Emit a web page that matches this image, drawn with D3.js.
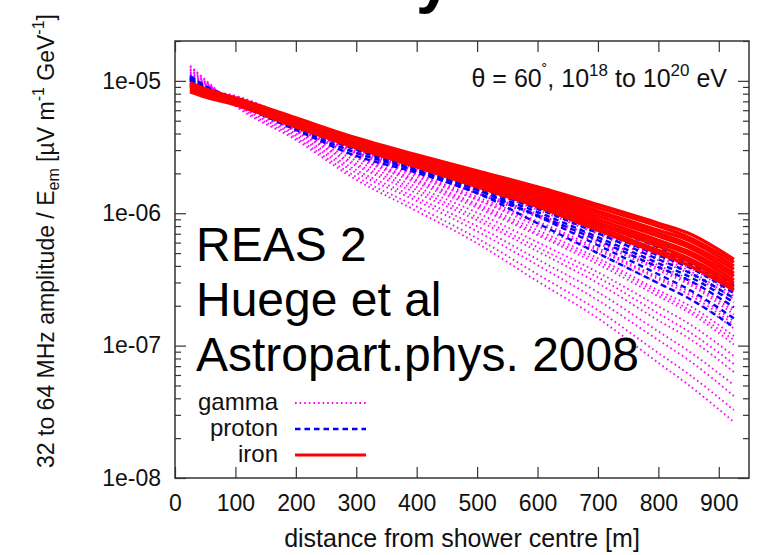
<!DOCTYPE html>
<html>
<head>
<meta charset="utf-8">
<script src="https://cdn.jsdelivr.net/npm/d3@7/dist/d3.min.js"></script>
<style>
  html, body { margin: 0; padding: 0; background: #fff; }
  svg { display: block; }
  text { font-family: "Liberation Sans", Arial, Helvetica, sans-serif; fill: #111; }
</style>
</head>
<body>
<svg id="chart" width="777" height="555"></svg>
<script>
// Lateral distances (m) at which each simulated curve is sampled
const distances = [25, 50, 100, 200, 300, 400, 500, 600, 700, 800, 850, 925];

// gamma-induced showers, field strength per unit E_em
const gammaCurves = [
  [9.83e-6, 8.55e-6, 7.70e-6, 5.07e-6, 3.40e-6, 2.40e-6, 1.69e-6, 1.20e-6, 7.98e-7, 5.25e-7, 4.26e-7, 2.62e-7],
  [1.00e-5, 8.70e-6, 7.70e-6, 4.98e-6, 3.28e-6, 2.32e-6, 1.61e-6, 1.14e-6, 7.44e-7, 4.81e-7, 3.91e-7, 2.36e-7],
  [1.00e-5, 8.70e-6, 7.57e-6, 4.98e-6, 3.28e-6, 2.28e-6, 1.58e-6, 1.10e-6, 7.18e-7, 4.65e-7, 3.71e-7, 2.24e-7],
  [1.02e-5, 8.70e-6, 7.57e-6, 4.90e-6, 3.23e-6, 2.24e-6, 1.55e-6, 1.06e-6, 6.94e-7, 4.41e-7, 3.52e-7, 2.12e-7],
  [1.02e-5, 8.70e-6, 7.57e-6, 4.81e-6, 3.12e-6, 2.16e-6, 1.47e-6, 9.88e-7, 6.47e-7, 4.05e-7, 3.17e-7, 1.91e-7],
  [1.04e-5, 8.85e-6, 7.44e-6, 4.81e-6, 3.06e-6, 2.09e-6, 1.42e-6, 9.66e-7, 6.14e-7, 3.84e-7, 3.01e-7, 1.82e-7],
  [1.04e-5, 8.85e-6, 7.44e-6, 4.73e-6, 3.01e-6, 2.05e-6, 1.40e-6, 9.33e-7, 5.93e-7, 3.71e-7, 2.91e-7, 1.72e-7],
  [1.05e-5, 8.85e-6, 7.44e-6, 4.65e-6, 2.91e-6, 1.98e-6, 1.33e-6, 8.70e-7, 5.44e-7, 3.28e-7, 2.57e-7, 1.53e-7],
  [1.05e-5, 9.01e-6, 7.31e-6, 4.65e-6, 2.86e-6, 1.95e-6, 1.28e-6, 8.40e-7, 5.25e-7, 3.17e-7, 2.44e-7, 1.45e-7],
  [1.07e-5, 9.01e-6, 7.31e-6, 4.57e-6, 2.81e-6, 1.88e-6, 1.26e-6, 7.98e-7, 4.98e-7, 2.96e-7, 2.28e-7, 1.35e-7],
  [1.09e-5, 9.17e-6, 7.31e-6, 4.49e-6, 2.71e-6, 1.79e-6, 1.18e-6, 7.44e-7, 4.57e-7, 2.62e-7, 2.02e-7, 1.18e-7],
  [1.09e-5, 9.17e-6, 7.18e-6, 4.41e-6, 2.66e-6, 1.75e-6, 1.14e-6, 7.06e-7, 4.34e-7, 2.49e-7, 1.88e-7, 1.10e-7],
  [1.11e-5, 9.17e-6, 7.18e-6, 4.41e-6, 2.62e-6, 1.69e-6, 1.10e-6, 6.82e-7, 4.12e-7, 2.36e-7, 1.79e-7, 1.02e-7],
  [1.13e-5, 9.33e-6, 7.06e-6, 4.26e-6, 2.49e-6, 1.58e-6, 1.01e-6, 6.04e-7, 3.58e-7, 1.98e-7, 1.47e-7, 8.35e-8],
  [1.15e-5, 9.49e-6, 6.94e-6, 4.19e-6, 2.36e-6, 1.50e-6, 9.33e-7, 5.53e-7, 3.28e-7, 1.75e-7, 1.28e-7, 7.26e-8],
  [1.17e-5, 9.49e-6, 6.94e-6, 4.12e-6, 2.28e-6, 1.42e-6, 8.85e-7, 5.16e-7, 2.96e-7, 1.55e-7, 1.14e-7, 6.32e-8],
  [1.21e-5, 9.66e-6, 6.82e-6, 3.98e-6, 2.12e-6, 1.31e-6, 7.98e-7, 4.49e-7, 2.53e-7, 1.28e-7, 9.10e-8, 5.04e-8],
  [1.23e-5, 9.83e-6, 6.70e-6, 3.84e-6, 2.02e-6, 1.24e-6, 7.31e-7, 4.05e-7, 2.20e-7, 1.10e-7, 7.78e-8, 4.16e-8],
  [1.28e-5, 1.00e-5, 6.59e-6, 3.71e-6, 1.88e-6, 1.12e-6, 6.47e-7, 3.46e-7, 1.85e-7, 8.79e-8, 6.10e-8, 3.26e-8],
  [1.30e-5, 1.02e-5, 6.47e-6, 3.58e-6, 1.79e-6, 1.04e-6, 5.93e-7, 3.06e-7, 1.61e-7, 7.41e-8, 5.04e-8, 2.65e-8]
];

// proton-induced showers
const protonCurves = [
  [1.09e-5, 9.17e-6, 7.31e-6, 4.90e-6, 3.40e-6, 2.44e-6, 1.75e-6, 1.24e-6, 8.26e-7, 5.53e-7, 4.49e-7, 2.86e-7],
  [1.07e-5, 9.01e-6, 7.18e-6, 4.81e-6, 3.28e-6, 2.36e-6, 1.67e-6, 1.18e-6, 7.84e-7, 5.16e-7, 4.19e-7, 2.66e-7],
  [1.05e-5, 8.85e-6, 7.06e-6, 4.73e-6, 3.23e-6, 2.28e-6, 1.61e-6, 1.14e-6, 7.44e-7, 4.81e-7, 3.91e-7, 2.49e-7],
  [1.04e-5, 8.70e-6, 7.06e-6, 4.65e-6, 3.17e-6, 2.24e-6, 1.55e-6, 1.08e-6, 7.06e-7, 4.49e-7, 3.58e-7, 2.28e-7],
  [1.02e-5, 8.55e-6, 6.94e-6, 4.57e-6, 3.06e-6, 2.16e-6, 1.50e-6, 1.02e-6, 6.59e-7, 4.19e-7, 3.34e-7, 2.12e-7],
  [1.00e-5, 8.40e-6, 6.82e-6, 4.49e-6, 3.01e-6, 2.09e-6, 1.42e-6, 9.66e-7, 6.25e-7, 3.91e-7, 3.12e-7, 1.95e-7],
  [9.66e-6, 8.26e-6, 6.82e-6, 4.34e-6, 2.86e-6, 2.09e-6, 1.50e-6, 9.49e-7, 5.73e-7, 3.46e-7, 2.66e-7, 1.61e-7],
  [9.49e-6, 8.12e-6, 6.70e-6, 4.26e-6, 2.71e-6, 2.02e-6, 1.42e-6, 8.40e-7, 4.98e-7, 2.96e-7, 2.28e-7, 1.38e-7]
];

// iron-induced showers
const ironCurves = [
  [9.66e-6, 8.70e-6, 7.44e-6, 5.25e-6, 3.71e-6, 2.76e-6, 2.09e-6, 1.58e-6, 1.16e-6, 8.40e-7, 7.06e-7, 4.49e-7],
  [9.49e-6, 8.55e-6, 7.31e-6, 5.16e-6, 3.64e-6, 2.71e-6, 2.02e-6, 1.53e-6, 1.10e-6, 7.98e-7, 6.59e-7, 4.26e-7],
  [9.33e-6, 8.40e-6, 7.18e-6, 5.07e-6, 3.58e-6, 2.62e-6, 1.95e-6, 1.47e-6, 1.04e-6, 7.44e-7, 6.25e-7, 3.98e-7],
  [9.17e-6, 8.26e-6, 7.18e-6, 4.98e-6, 3.52e-6, 2.57e-6, 1.91e-6, 1.40e-6, 1.00e-6, 7.06e-7, 5.83e-7, 3.77e-7],
  [9.01e-6, 8.12e-6, 7.06e-6, 4.90e-6, 3.46e-6, 2.53e-6, 1.85e-6, 1.35e-6, 9.49e-7, 6.70e-7, 5.53e-7, 3.52e-7],
  [8.85e-6, 8.12e-6, 6.94e-6, 4.81e-6, 3.34e-6, 2.44e-6, 1.79e-6, 1.31e-6, 9.01e-7, 6.25e-7, 5.16e-7, 3.34e-7],
  [8.70e-6, 7.98e-6, 6.82e-6, 4.73e-6, 3.28e-6, 2.40e-6, 1.72e-6, 1.26e-6, 8.55e-7, 5.93e-7, 4.90e-7, 3.12e-7],
  [8.55e-6, 7.84e-6, 6.82e-6, 4.65e-6, 3.23e-6, 2.36e-6, 1.69e-6, 1.20e-6, 8.26e-7, 5.63e-7, 4.57e-7, 2.96e-7],
  [8.40e-6, 7.70e-6, 6.70e-6, 4.57e-6, 3.17e-6, 2.28e-6, 1.64e-6, 1.16e-6, 7.84e-7, 5.25e-7, 4.34e-7, 2.76e-7],
  [8.26e-6, 7.57e-6, 6.59e-6, 4.49e-6, 3.12e-6, 2.24e-6, 1.58e-6, 1.12e-6, 7.44e-7, 4.98e-7, 4.05e-7, 2.62e-7]
];

const seriesNames = ["gamma", "proton", "iron"];
const xTicks = [0, 100, 200, 300, 400, 500, 600, 700, 800, 900];
const yMajorTicks = [1e-8, 1e-7, 1e-6, 1e-5];
const yTickLabels = ["1e-08", "1e-07", "1e-06", "1e-05"];
const notes = ["REAS 2", "Huege et al", "Astropart.phys. 2008"];

const svg = d3.select("#chart");
const box = { left: 175, top: 41, right: 749, bottom: 478 };

const x = d3.scaleLinear().domain([0, 950]).range([box.left, box.right]);
const y = d3.scaleLog().domain([1e-8, 2e-5]).range([box.bottom, box.top]);

// minor ticks 2..9 in every decade inside the range
const yMinorTicks = [];
for (let e = -8; e <= -5; e++) {
  for (let k = 2; k <= 9; k++) {
    const v = k * Math.pow(10, e);
    if (v <= 2e-5) yMinorTicks.push(v);
  }
}

// partial slide heading above the plot
svg.append("text")
  .attr("x", 416).attr("y", 1)
  .attr("font-size", 64).attr("font-weight", "bold")
  .style("fill", "#000")
  .text("y");

const styles = {
  gamma:  { color: "#ff00ff", width: 1.9, dash: "1.6,3" },
  proton: { color: "#0000ff", width: 2.4, dash: "5.5,4" },
  iron:   { color: "#ff0000", width: 3.3, dash: null }
};

const line = d3.line()
  .x((d, i) => x(distances[i]))
  .y(d => y(d))
  .curve(d3.curveMonotoneX);

const plot = svg.append("g");
[["gamma", gammaCurves], ["proton", protonCurves], ["iron", ironCurves]].forEach(([name, curves]) => {
  const s = styles[name];
  plot.append("g").selectAll("path")
    .data(curves)
    .join("path")
    .attr("d", line)
    .attr("fill", "none")
    .attr("stroke", s.color)
    .attr("stroke-width", s.width)
    .attr("stroke-dasharray", s.dash);
});

// axes: ticks point inward, mirrored on top and right
const axisColor = "#333";
function styleAxis(g) {
  g.select(".domain").remove();
  g.selectAll(".tick line").attr("stroke", axisColor).attr("stroke-width", 1.2);
  g.selectAll(".tick text").attr("font-size", 23).attr("font-family", "Liberation Sans, Arial, sans-serif").style("fill", "#111");
}

svg.append("g").attr("transform", `translate(0,${box.bottom})`)
  .call(d3.axisBottom(x).tickValues(xTicks).tickSize(-11).tickPadding(17).tickFormat(d => String(d)))
  .call(styleAxis);
svg.append("g").attr("transform", `translate(0,${box.top})`)
  .call(d3.axisTop(x).tickValues(xTicks).tickSize(-11).tickFormat(""))
  .call(styleAxis);
svg.append("g").attr("transform", `translate(${box.left},0)`)
  .call(d3.axisLeft(y).tickValues(yMajorTicks).tickSize(-11).tickPadding(14)
    .tickFormat(d => yTickLabels[yMajorTicks.indexOf(d)]))
  .call(styleAxis);
svg.append("g").attr("transform", `translate(${box.left},0)`)
  .call(d3.axisLeft(y).tickValues(yMinorTicks).tickSize(-6).tickFormat(""))
  .call(styleAxis);
svg.append("g").attr("transform", `translate(${box.right},0)`)
  .call(d3.axisRight(y).tickValues(yMajorTicks).tickSize(-11).tickFormat(""))
  .call(styleAxis);
svg.append("g").attr("transform", `translate(${box.right},0)`)
  .call(d3.axisRight(y).tickValues(yMinorTicks).tickSize(-6).tickFormat(""))
  .call(styleAxis);

svg.append("rect")
  .attr("x", box.left).attr("y", box.top)
  .attr("width", box.right - box.left).attr("height", box.bottom - box.top)
  .attr("fill", "none").attr("stroke", axisColor).attr("stroke-width", 1.5);

// axis titles
svg.append("text")
  .attr("x", (box.left + box.right) / 2).attr("y", 547)
  .attr("text-anchor", "middle").attr("font-size", 25)
  .text("distance from shower centre [m]");

const yt = svg.append("text")
  .attr("transform", "translate(54,241) rotate(-90)")
  .attr("text-anchor", "middle").attr("font-size", 23);
yt.append("tspan").text("32 to 64 MHz amplitude / E");
yt.append("tspan").attr("font-size", 16).attr("dy", 5).text("em");
yt.append("tspan").attr("dy", -5).text(" [µV m");
yt.append("tspan").attr("font-size", 16).attr("dy", -10).text("-1");
yt.append("tspan").attr("dy", 10).text("  GeV");
yt.append("tspan").attr("font-size", 16).attr("dy", -10).text("-1");
yt.append("tspan").attr("dy", 10).text("]");

// energy / zenith annotation
const ann = svg.append("text")
  .attr("x", 727).attr("y", 87)
  .attr("text-anchor", "end").attr("font-size", 25);
ann.append("tspan").text("θ = 60");
ann.append("tspan").attr("font-size", 17).attr("dy", -11).text("˚");
ann.append("tspan").attr("dy", 11).text(", 10");
ann.append("tspan").attr("font-size", 17).attr("dy", -11).text("18");
ann.append("tspan").attr("dy", 11).text(" to 10");
ann.append("tspan").attr("font-size", 17).attr("dy", -11).text("20");
ann.append("tspan").attr("dy", 11).text(" eV");

// reference note
svg.append("g").selectAll("text")
  .data(notes)
  .join("text")
  .attr("x", 196)
  .attr("y", (d, i) => 261 + i * 55)
  .attr("font-size", 48)
  .style("fill", "#000")
  .text(d => d);

// legend
const legend = svg.append("g");
seriesNames.forEach((name, i) => {
  const s = styles[name];
  const yy = 410 + i * 26;
  legend.append("text")
    .attr("x", 278).attr("y", yy)
    .attr("text-anchor", "end").attr("font-size", 24)
    .text(name);
  legend.append("line")
    .attr("x1", 295).attr("x2", 366)
    .attr("y1", yy - 7).attr("y2", yy - 7)
    .attr("stroke", s.color)
    .attr("stroke-width", name === "iron" ? 2.8 : s.width)
    .attr("stroke-dasharray", s.dash);
});
</script>
</body>
</html>
